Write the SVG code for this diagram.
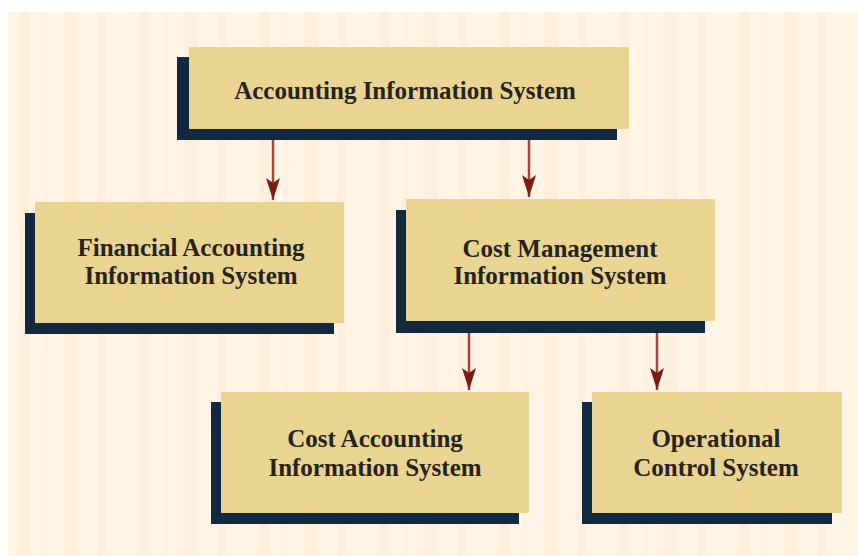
<svg xmlns="http://www.w3.org/2000/svg" width="858" height="556" viewBox="0 0 858 556">
  <style>
    .shadow { fill: #13293f; }
    .box { fill: #e9d591; }
    .label { font-family: "Liberation Serif", "DejaVu Serif", serif; font-weight: bold; font-size: 25px; fill: #262220; text-anchor: middle; }
    .wire { stroke: #a3443a; stroke-width: 2.5; fill: none; marker-end: url(#headDown); }
  </style>
  <defs>
    <marker id="headDown" viewBox="0 0 14 22" refX="7" refY="22" markerWidth="14" markerHeight="22" markerUnits="userSpaceOnUse" orient="0">
      <path d="M0,0 L7,5 L14,0 L7,22 Z" fill="#7d1b12"/>
    </marker>
    <pattern id="stripes" x="8" y="0" width="120" height="556" patternUnits="userSpaceOnUse">
      <rect width="120" height="556" fill="#fff4e6"/>
      <rect x="12" width="10" height="556" fill="#fdeedb"/>
      <rect x="34" width="6" height="556" fill="#fef1e0"/>
      <rect x="56" width="14" height="556" fill="#feefdc"/>
      <rect x="90" width="8" height="556" fill="#fef0de"/>
    </pattern>
  </defs>

  <!-- page background -->
  <rect x="8" y="12" width="850" height="544" fill="url(#stripes)"/>

  <!-- connectors -->
  <g id="connectors">
    <line class="wire" x1="273" y1="140" x2="273" y2="200"/>
    <line class="wire" x1="529" y1="140" x2="529" y2="197"/>
    <line class="wire" x1="469" y1="333" x2="469" y2="390"/>
    <line class="wire" x1="657" y1="333" x2="657" y2="390"/>
  </g>

  <g id="accounting-information-system">
    <rect class="shadow" x="177" y="57" width="440" height="83"/>
    <rect class="box" x="189" y="47" width="440" height="82"/>
    <text class="label" x="405" y="99">Accounting Information System</text>
  </g>

  <g id="financial-accounting">
    <rect class="shadow" x="25" y="213" width="309" height="121"/>
    <rect class="box" x="35" y="202" width="309" height="121"/>
    <text class="label" x="191" y="256">Financial Accounting</text>
    <text class="label" x="191" y="284">Information System</text>
  </g>

  <g id="cost-management">
    <rect class="shadow" x="396" y="210" width="309" height="123"/>
    <rect class="box" x="406" y="199" width="309" height="122"/>
    <text class="label" x="560" y="257">Cost Management</text>
    <text class="label" x="560" y="284">Information System</text>
  </g>

  <g id="cost-accounting">
    <rect class="shadow" x="211" y="402" width="308" height="122"/>
    <rect class="box" x="221" y="392" width="308" height="121"/>
    <text class="label" x="375" y="447">Cost Accounting</text>
    <text class="label" x="375" y="476">Information System</text>
  </g>

  <g id="operational-control">
    <rect class="shadow" x="582" y="402" width="250" height="122"/>
    <rect class="box" x="592" y="392" width="250" height="121"/>
    <text class="label" x="716" y="447">Operational</text>
    <text class="label" x="716" y="476">Control System</text>
  </g>
</svg>
